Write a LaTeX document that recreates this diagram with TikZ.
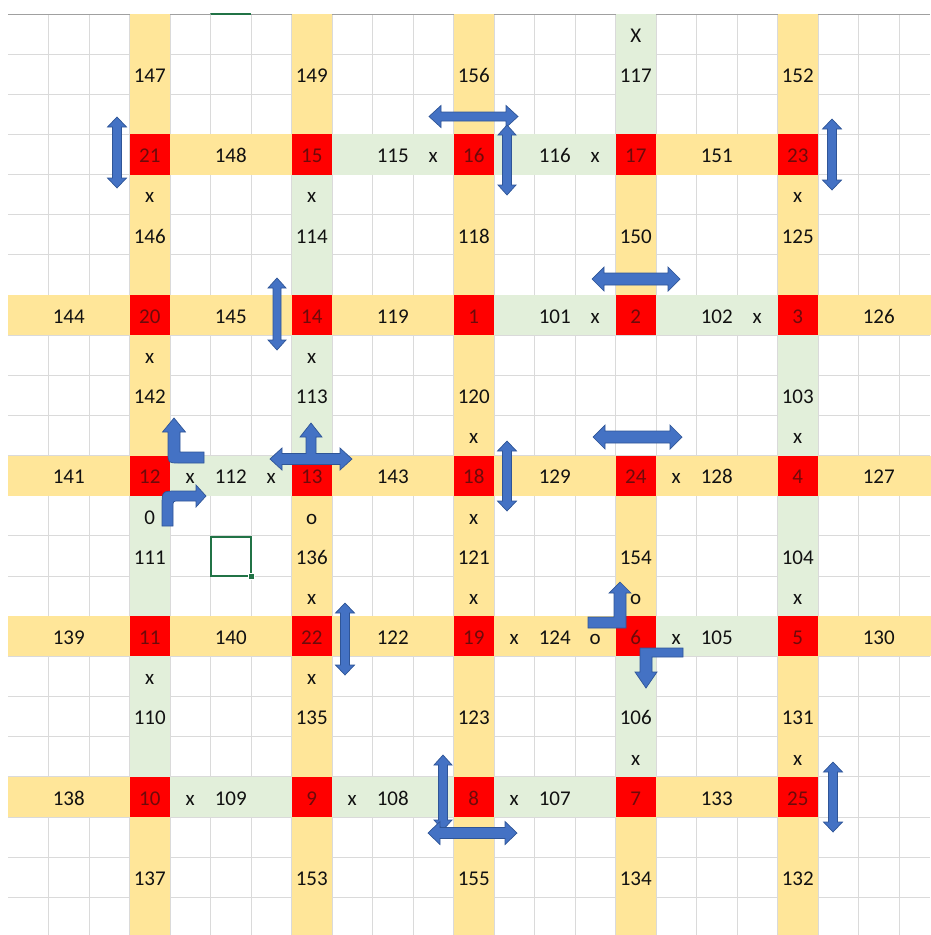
\documentclass[tikz,border=0pt]{standalone}
\usepackage{fontspec}
\setmainfont{Carlito}
\definecolor{cellyellow}{HTML}{FFE699}
\definecolor{cellgreen}{HTML}{E2EFDA}
\definecolor{cellred}{HTML}{FF0000}
\definecolor{gridgray}{HTML}{DADADA}
\definecolor{topgray}{HTML}{A0A0A0}
\definecolor{xlgreen}{HTML}{217346}
\definecolor{arrowblue}{HTML}{4472C4}
\definecolor{arrowedge}{HTML}{2F5597}
\definecolor{redtext}{HTML}{6E0A0A}
\definecolor{txtblack}{HTML}{111111}
\newcommand\cellblock[5]{\fill[#1] ({8+40.5*#2},{14+40.15*#4}) rectangle ({8+40.5*(#3+1)},{14+40.15*(#5+1)});}
\newcommand\vdblarrow[6]{% x, ytop, ybottom, shaft half, head half, head length
 \draw[blockarrow] (#1,#2) -- ({#1+#5},{#2+#6}) -- ({#1+#4},{#2+#6}) -- ({#1+#4},{#3-#6}) -- ({#1+#5},{#3-#6}) -- (#1,#3) -- ({#1-#5},{#3-#6}) -- ({#1-#4},{#3-#6}) -- ({#1-#4},{#2+#6}) -- ({#1-#5},{#2+#6}) -- cycle;}
\newcommand\hdblarrow[6]{% y, xleft, xright, shaft half, head half, head length
 \draw[blockarrow] (#2,#1) -- ({#2+#6},{#1-#5}) -- ({#2+#6},{#1-#4}) -- ({#3-#6},{#1-#4}) -- ({#3-#6},{#1-#5}) -- (#3,#1) -- ({#3-#6},{#1+#5}) -- ({#3-#6},{#1+#4}) -- ({#2+#6},{#1+#4}) -- ({#2+#6},{#1+#5}) -- cycle;}
\begin{document}
\begin{tikzpicture}[x=1pt,y=-1pt,
 gridline/.style={draw=gridgray, line width=1pt},
 yfill/.style={fill=cellyellow},
 gfill/.style={fill=cellgreen},
 rfill/.style={fill=cellred},
 celltext/.style={anchor=base, inner sep=0pt, text=txtblack, font=\fontsize{21}{24}\selectfont},
 redcelltext/.style={celltext, text=redtext},
 blockarrow/.style={fill=arrowblue, draw=arrowedge, line width=0.7pt, line join=miter},
]
\useasboundingbox[fill=white] (0,0) rectangle (930,935);
% grid
\foreach \k in {1,...,22} \draw[gridline] ({8+40.5*\k},14) -- ({8+40.5*\k},935);
\foreach \k in {1,...,22} \draw[gridline] (8,{14+40.15*\k}) -- (930,{14+40.15*\k});
\draw[topgray, line width=1pt] (8,14) -- (930,14);
% vertical stripes
\cellblock{yfill}{3}{3}{0}{22}
\cellblock{gfill}{3}{3}{12}{18}
\cellblock{yfill}{7}{7}{0}{22}
\cellblock{gfill}{7}{7}{4}{10}
\cellblock{yfill}{11}{11}{0}{22}
\cellblock{gfill}{15}{15}{0}{2}
\cellblock{yfill}{15}{15}{4}{6}
\cellblock{yfill}{15}{15}{12}{14}
\cellblock{gfill}{15}{15}{16}{18}
\cellblock{yfill}{15}{15}{20}{22}
\cellblock{yfill}{19}{19}{0}{22}
\cellblock{gfill}{19}{19}{8}{14}
% horizontal stripes
\cellblock{yfill}{4}{6}{3}{3}
\cellblock{gfill}{8}{10}{3}{3}
\cellblock{gfill}{12}{14}{3}{3}
\cellblock{yfill}{16}{18}{3}{3}
\cellblock{yfill}{0}{11}{7}{7}
\cellblock{gfill}{12}{18}{7}{7}
\cellblock{yfill}{19}{22}{7}{7}
\cellblock{yfill}{0}{22}{11}{11}
\cellblock{gfill}{4}{6}{11}{11}
\cellblock{yfill}{0}{22}{15}{15}
\cellblock{gfill}{16}{18}{15}{15}
\cellblock{yfill}{0}{2}{19}{19}
\cellblock{gfill}{4}{14}{19}{19}
\cellblock{yfill}{16}{18}{19}{19}
% red intersections
\foreach \c in {3,7,11,15,19} \foreach \r in {3,7,11,15,19} \cellblock{rfill}{\c}{\c}{\r}{\r}
% selection
\draw[xlgreen, line width=2pt] (210.5,14) -- (251,14);
\draw[xlgreen, line width=2pt] (210.5,536.5) rectangle (250.5,576);
\fill[white] (247.5,572.5) rectangle (255,580);
\fill[xlgreen] (249,574) rectangle (254,579);
% texts
\foreach \c/\r/\t in {15/0/X,
 3/1/147, 7/1/149, 11/1/156, 15/1/117, 19/1/152,
 5/3/148, 9/3/115, 10/3/x, 13/3/116, 14/3/x, 17/3/151,
 3/4/x, 7/4/x, 19/4/x,
 3/5/146, 7/5/114, 11/5/118, 15/5/150, 19/5/125,
 1/7/144, 5/7/145, 9/7/119, 13/7/101, 14/7/x, 17/7/102, 18/7/x, 21/7/126,
 3/8/x, 7/8/x,
 3/9/142, 7/9/113, 11/9/120, 19/9/103,
 11/10/x, 19/10/x,
 1/11/141, 4/11/x, 5/11/112, 6/11/x, 9/11/143, 13/11/129, 16/11/x, 17/11/128, 21/11/127,
 3/12/0, 7/12/o, 11/12/x,
 3/13/111, 7/13/136, 11/13/121, 15/13/154, 19/13/104,
 7/14/x, 11/14/x, 15/14/o, 19/14/x,
 1/15/139, 5/15/140, 9/15/122, 12/15/x, 13/15/124, 14/15/o, 16/15/x, 17/15/105, 21/15/130,
 3/16/x, 7/16/x,
 3/17/110, 7/17/135, 11/17/123, 15/17/106, 19/17/131,
 15/18/x, 19/18/x,
 1/19/138, 4/19/x, 5/19/109, 8/19/x, 9/19/108, 12/19/x, 13/19/107, 17/19/133,
 3/21/137, 7/21/153, 11/21/155, 15/21/134, 19/21/132}
 \node[celltext] (t-\c-\r) at ({8+40.5*(\c+0.5)},{14+40.15*\r+28.3}) {\t};
\foreach \c/\r/\t in {3/3/21, 7/3/15, 11/3/16, 15/3/17, 19/3/23,
 3/7/20, 7/7/14, 11/7/1, 15/7/2, 19/7/3,
 3/11/12, 7/11/13, 11/11/18, 15/11/24, 19/11/4,
 3/15/11, 7/15/22, 11/15/19, 15/15/6, 19/15/5,
 3/19/10, 7/19/9, 11/19/8, 15/19/7, 19/19/25}
 \node[redcelltext] (t-\c-\r) at ({8+40.5*(\c+0.5)},{14+40.15*\r+28.3}) {\t};
% arrows
\vdblarrow{117}{117}{188}{4.5}{9.5}{10}
\hdblarrow{116.5}{429}{518}{4.5}{11}{12}
\vdblarrow{507}{125}{195}{4.5}{9}{10}
\vdblarrow{832}{119}{190}{4.5}{9.5}{10}
\vdblarrow{277}{278}{350}{4}{9}{10}
\hdblarrow{279}{592}{680}{6}{12}{12}
\hdblarrow{437}{593}{682}{6}{12}{12}
\vdblarrow{507}{441}{511}{4.5}{9.5}{10}
\vdblarrow{345}{603}{675}{4.5}{9.5}{10}
\vdblarrow{443}{755}{830}{4.5}{9}{10}
\hdblarrow{833}{428}{517}{5.5}{11.5}{12}
\vdblarrow{833}{762}{832}{4.5}{9.5}{10}
% T arrow at 13
\draw[blockarrow] (270,459) -- (282,448) -- (282,453.5) -- (306,453.5) -- (306,437) -- (300,437) -- (311,423) -- (322,437) -- (316,437) -- (316,453.5) -- (340,453.5) -- (340,448) -- (352,459) -- (340,470) -- (340,464.5) -- (282,464.5) -- (282,470) -- cycle;
% bent arrows at 12
\draw[blockarrow] (174,418) -- (185.5,432) -- (180,432) -- (180,452) -- (204,452) -- (204,463) -- (179,463) .. controls (168,463) .. (168,452) -- (168,432) -- (162.5,432) -- cycle;
\draw[blockarrow] (162,526) -- (162,506) .. controls (162,491) .. (177,491) -- (196,491) -- (196,485) -- (206,496) -- (196,507) -- (196,501) -- (179,501) .. controls (173,501) .. (173,507) -- (173,526) -- cycle;
% bent arrows at 6
\draw[blockarrow] (620,582) -- (631,593) -- (626,593) -- (626,628) -- (588,628) -- (588,617) -- (614,617) -- (614,593) -- (609,593) -- cycle;
\draw[blockarrow] (683,648) -- (683,657) -- (652,657) -- (652,672) -- (657,672) -- (646,688) -- (635,672) -- (640,672) -- (640,648) -- cycle;
\end{tikzpicture}
\end{document}
